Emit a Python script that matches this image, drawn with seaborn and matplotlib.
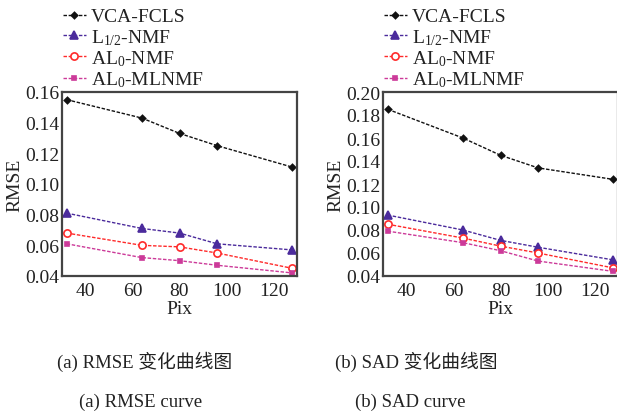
import matplotlib
matplotlib.use("Agg")
import matplotlib.pyplot as plt
import seaborn as sns
import pandas as pd

sns.set_theme(style="white")
plt.rcParams['font.family'] = ['Liberation Serif', 'Noto Sans CJK SC']
plt.rcParams['mathtext.fontset'] = 'custom'
plt.rcParams['mathtext.rm'] = 'Liberation Serif'
plt.rcParams['mathtext.it'] = 'Liberation Serif'

pix = [32, 64, 80, 96, 128]
labels = ["VCA-FCLS", r"L$_{1/2}$-NMF", r"AL$_0$-NMF", r"AL$_0$-MLNMF"]

rmse_vca = [0.155, 0.143, 0.133, 0.125, 0.111]
rmse_l12 = [0.081, 0.071, 0.068, 0.061, 0.057]
rmse_al0 = [0.068, 0.060, 0.059, 0.055, 0.045]
rmse_ml = [0.061, 0.052, 0.050, 0.047, 0.042]

sad_vca = [0.185, 0.160, 0.145, 0.134, 0.124]
sad_l12 = [0.093, 0.080, 0.071, 0.065, 0.054]
sad_al0 = [0.085, 0.073, 0.066, 0.060, 0.047]
sad_ml = [0.079, 0.069, 0.062, 0.053, 0.044]

yticks_a = [0.04, 0.06, 0.08, 0.10, 0.12, 0.14, 0.16]
yticks_b = [0.04, 0.06, 0.08, 0.10, 0.12, 0.14, 0.16, 0.18, 0.20]
xticks = [40, 60, 80, 100, 120]

colors = ["#111111", "#4b2b9c", "#ff2a2a", "#cc3a99"]
markers = ["D", "^", "o", "s"]
msizes = [3.2, 5.5, 5.2, 3.2]
mfc = ["#111111", "#4b2b9c", "white", "#cc3a99"]

FS = 14
W, H = 617, 414
fig = plt.figure(figsize=(W / 100, H / 100), dpi=100)

def make_ax(x0, x1, y0, y1):
    return fig.add_axes([x0 / W, 1 - y1 / H, (x1 - x0) / W, (y1 - y0) / H])

ax_a = make_ax(62, 297, 93, 277)
ax_b = make_ax(383, 618, 93, 277)

for ax, series, yt in [(ax_a, [rmse_vca, rmse_l12, rmse_al0, rmse_ml], yticks_a),
                       (ax_b, [sad_vca, sad_l12, sad_al0, sad_ml], yticks_b)]:
    for i, vals in enumerate(series):
        df = pd.DataFrame({"Pix": pix, "val": vals})
        sns.lineplot(data=df, x="Pix", y="val", ax=ax, color=colors[i],
                     marker=markers[i], markersize=msizes[i],
                     markerfacecolor=mfc[i], markeredgecolor=colors[i],
                     markeredgewidth=1.2, linewidth=1.0, label=labels[i])
        ax.lines[-1].set_dashes((2.5, 1.2))
    ax.set_xlim(30, 130)
    ax.set_ylim(yt[0], yt[-1])
    ax.set_xticks(xticks)
    ax.set_yticks(yt)
    ax.set_yticklabels([f"{v:.2f}" for v in yt])
    ax.tick_params(direction="in", length=4, width=1, labelsize=FS, colors="#222222")
    ax.tick_params(axis="x", pad=4)
    ax.tick_params(axis="y", pad=2)
    for s in ax.spines.values():
        s.set_color("#444444")
        s.set_linewidth(1.6)
    ax.set_xlabel("Pix", fontsize=FS, labelpad=1, color="#222222")
    ax.set_ylabel("RMSE", fontsize=FS, labelpad=1, color="#222222")
    leg = ax.legend(loc="lower left", bbox_to_anchor=(-0.01, 1.0), frameon=False,
                    fontsize=FS, handlelength=1.2, handletextpad=0.25,
                    labelspacing=0.08, borderaxespad=0.05, borderpad=0.1)
    for t in leg.get_texts():
        t.set_color("#222222")

CS = 13.5
fig.text(145 / W, 1 - 362 / H, "(a) RMSE 变化曲线图", ha="center", va="center",
         fontsize=CS, color="#222222")
fig.text(141 / W, 1 - 402 / H, "(a) RMSE curve", ha="center", va="center",
         fontsize=CS, color="#222222")
fig.text(416 / W, 1 - 362 / H, "(b) SAD 变化曲线图", ha="center", va="center",
         fontsize=CS, color="#222222")
fig.text(410 / W, 1 - 402 / H, "(b) SAD curve", ha="center", va="center",
         fontsize=CS, color="#222222")

fig.savefig("out.png", dpi=100)
